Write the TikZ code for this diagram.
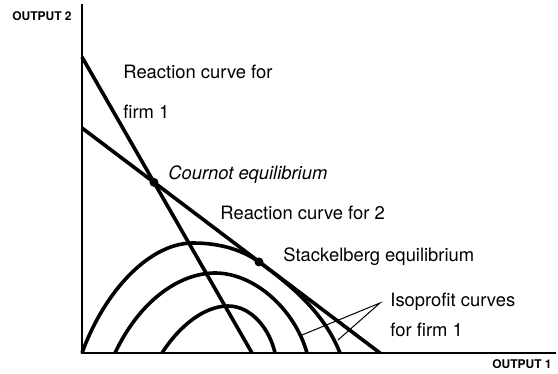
\documentclass[tikz,border=0pt]{standalone}
\usepackage{fontspec}
\setmainfont{TeX Gyre Heros}
\usepackage{tikz}

\begin{document}
\begin{tikzpicture}[x=0.5pt, y=-0.5pt, every node/.style={font=\fontsize{9.2}{11}\selectfont, inner sep=0pt},
	curve/.style={line width=1.8pt}, axislabel/.style={font=\fontsize{6}{7}\selectfont\bfseries}]
	\useasboundingbox (0,0) rectangle (558,374);
	% axes
	\coordinate (O) at (82,353);
	\coordinate (ytop) at (82,4);
	\coordinate (xend) at (556,353);
	\draw[line width=0.9pt] (ytop) -- (O) -- (xend);
	\node[axislabel, anchor=east] (ylab) at (72,16) {OUTPUT 2};
	\node[axislabel, anchor=east] (xlab) at (552,364) {OUTPUT 1};
	% reaction curves
	\coordinate (r1a) at (82,57);  \coordinate (r1b) at (252,353);
	\coordinate (r2a) at (82,128); \coordinate (r2b) at (380,353);
	\draw[curve] (r1a) -- (r1b);
	\draw[curve] (r2a) -- (r2b);
	\coordinate (cournot) at (intersection of r1a--r1b and r2a--r2b);
	\coordinate (stack) at (259,262);
	\fill (cournot) circle (4.5);
	\fill (stack) circle (4.5);
	% isoprofit curves
	\draw[curve] (O) .. controls (105,290) and (150,243) .. (193,243) .. controls (222,243) and (244,251) .. (stack)
		.. controls (295,288) and (325,315) .. (340,353);
	\draw[curve] (115,353) .. controls (140,300) and (180,273) .. (215,273) .. controls (255,273) and (295,310) .. (307,353);
	\draw[curve] (162,353) .. controls (180,325) and (205,306) .. (228,306) .. controls (252,306) and (270,330) .. (275,353);
	% labels
	\node[anchor=west] (r1lab) at (123,72) {Reaction curve for};
	\node[anchor=west] (r1lab2) at (123,112) {firm 1};
	\node[anchor=west] (clab) at (168,175) {\itshape Cournot equilibrium};
	\node[anchor=west] (r2lab) at (220,213) {Reaction curve for 2};
	\node[anchor=west] (slab) at (283,257) {Stackelberg equilibrium};
	\node[anchor=west] (ilab) at (390,302) {Isoprofit curves};
	\node[anchor=west] (ilab2) at (390,330) {for firm 1};
	\coordinate (ip) at (380,303);
	\coordinate (ia) at (302,335);
	\coordinate (ib) at (338,340);
	\draw[line width=0.5pt] (ia) -- (ip) -- (ib);
\end{tikzpicture}
\end{document}
